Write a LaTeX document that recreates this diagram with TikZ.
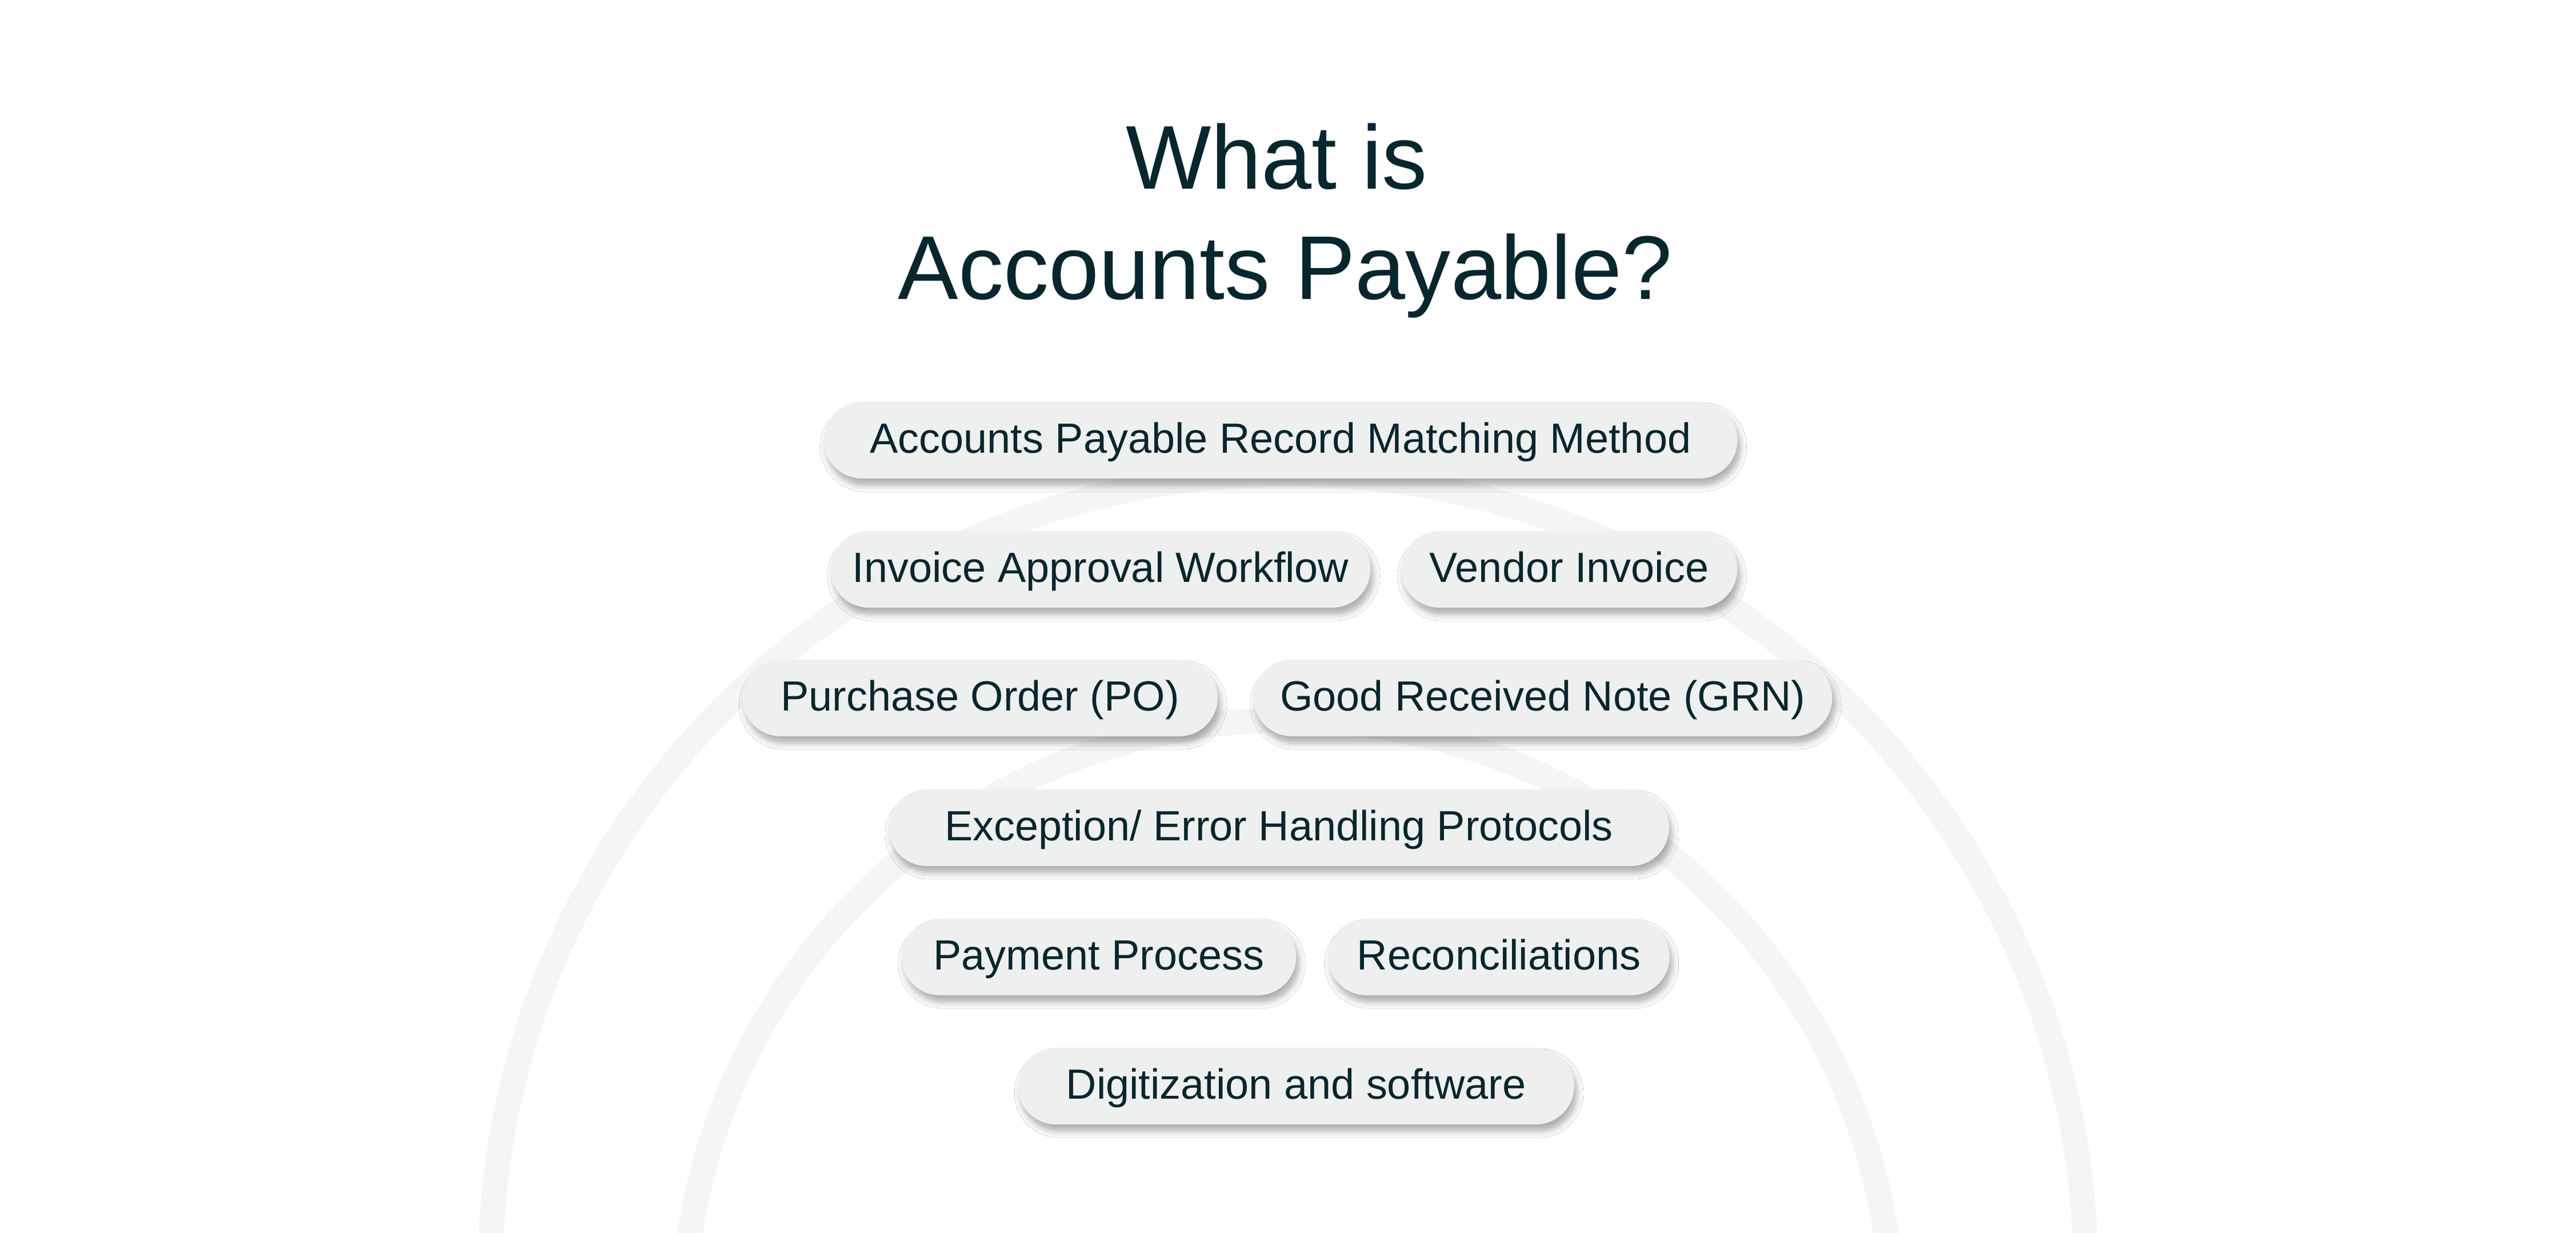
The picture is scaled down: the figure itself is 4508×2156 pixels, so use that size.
\documentclass[tikz,border=0pt]{standalone}
\usepackage{fontspec}
\setmainfont{Liberation Sans}
\usetikzlibrary{shadows.blur}
\definecolor{ink}{HTML}{07262D}
\definecolor{pillfill}{HTML}{EEEFEF}
\definecolor{arcgray}{HTML}{F4F5F5}
\tikzset{
  pill/.style={rectangle, rounded corners=0.67cm, fill=pillfill, minimum height=1.34cm,
    inner sep=0pt, text height=0.54cm, text depth=0.10cm, text=ink, font=\fontsize{21}{25}\selectfont,
    blur shadow={shadow xshift=0.05cm, shadow yshift=-0.12cm, shadow blur radius=0.11cm, shadow opacity=32}},
  titletext/.style={text=ink, font=\fontsize{45}{55}\selectfont, inner sep=0pt, anchor=base},
  arcline/.style={draw=arcgray, line width=0.44cm}
}
\begin{document}
\begin{tikzpicture}[x=0.01cm,y=-0.01cm]
\useasboundingbox[fill=white] (0,0) rectangle (4508,2156);
\begin{scope}
  \clip (0,0) rectangle (4508,2156);
  \draw[arcline] (2254,2225) circle[radius=13.95cm];
  \draw[arcline] (2254,2318) circle[radius=10.58cm];
\end{scope}

\node[titletext] (t1) at (2234,330) {What is};
\node[titletext] (t2) at (2249,523) {Accounts Payable?};

\node[pill, minimum width=15.98cm] (p1) at (2241,770) {Accounts Payable Record Matching Method};
\node[pill, minimum width=9.44cm]  (p2) at (1926,996) {Invoice Approval Workflow};
\node[pill, minimum width=5.88cm]  (p3) at (2746,996) {Vendor Invoice};
\node[pill, minimum width=8.31cm]  (p4) at (1715,1221) {Purchase Order (PO)};
\node[pill, minimum width=10.12cm] (p5) at (2700,1221) {Good Received Note (GRN)};
\node[pill, minimum width=13.65cm] (p6) at (2238,1448) {Exception/ Error Handling Protocols};
\node[pill, minimum width=6.90cm]  (p7) at (1923,1674) {Payment Process};
\node[pill, minimum width=5.97cm]  (p8) at (2623,1674) {Reconciliations};
\node[pill, minimum width=9.73cm]  (p9) at (2268,1900) {Digitization and software};
\end{tikzpicture}
\end{document}
